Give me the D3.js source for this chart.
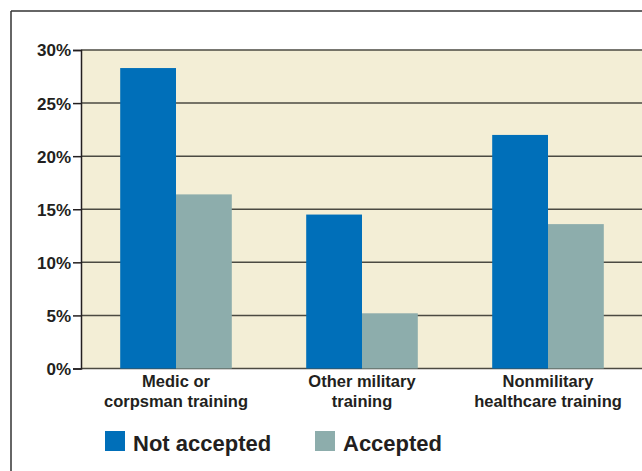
<!DOCTYPE html>
<html>
<head>
<meta charset="utf-8">
<script src="https://cdn.jsdelivr.net/npm/d3@7"></script>
<style>
  body { margin: 0; background: #fff; }
  svg { display: block; }
  text { font-family: "Liberation Sans", Arial, sans-serif; fill: #231f20; }
</style>
</head>
<body>
<div id="chart"></div>
<script>
// data
var categories = ["Medic or|corpsman training", "Other military|training", "Nonmilitary|healthcare training"];
var seriesNames = ["Not accepted", "Accepted"];
var notAccepted = [28.3, 14.5, 22.0];
var accepted = [16.4, 5.2, 13.6];
var yTicks = [0, 5, 10, 15, 20, 25, 30];

var colors = ["#006fb9", "#8dadac"];

var W = 642, H = 471;
var svg = d3.select("#chart").append("svg")
    .attr("width", W)
    .attr("height", H);

// outer frame (left and top rules)
svg.append("line").attr("x1", 11).attr("x2", W).attr("y1", 11).attr("y2", 11)
    .attr("stroke", "#333").attr("stroke-width", 1.5);
svg.append("line").attr("x1", 11).attr("x2", 11).attr("y1", 11).attr("y2", H)
    .attr("stroke", "#333").attr("stroke-width", 1.5);

var plotLeft = 81, plotRight = W, plotTop = 50, plotBottom = 368.5;

var y = d3.scaleLinear().domain([0, 30]).range([plotBottom, plotTop]);
var x = d3.scaleBand().domain(categories).range([83, 641])
    .paddingInner(0.4).paddingOuter(0.2);
var xs = d3.scaleBand().domain(seriesNames).range([0, x.bandwidth()]);

// plot background
svg.append("rect")
    .attr("x", plotLeft).attr("y", y(30))
    .attr("width", plotRight - plotLeft).attr("height", y(0) - y(30))
    .attr("fill", "#f3eed6");

// gridlines
svg.selectAll(".grid").data(yTicks).enter().append("line")
    .attr("class", "grid")
    .attr("x1", plotLeft).attr("x2", plotRight)
    .attr("y1", d => y(d)).attr("y2", d => y(d))
    .attr("stroke", "#4b4a42").attr("stroke-width", 1.5);

// bars
var rows = categories.map((c, i) => ({ cat: c, vals: [notAccepted[i], accepted[i]] }));
var g = svg.selectAll(".grp").data(rows).enter().append("g")
    .attr("transform", d => "translate(" + x(d.cat) + ",0)");
g.selectAll("rect").data(d => d.vals).enter().append("rect")
    .attr("x", (d, i) => xs(seriesNames[i]))
    .attr("y", d => y(d))
    .attr("width", xs.bandwidth())
    .attr("height", d => y(0) - y(d))
    .attr("fill", (d, i) => colors[i]);

// y axis
var yAxis = d3.axisLeft(y).tickValues(yTicks).tickSize(8).tickPadding(2)
    .tickFormat(d => d + "%");
var ya = svg.append("g").attr("transform", "translate(" + plotLeft + ",0)").call(yAxis);
ya.select(".domain").attr("stroke", "#231f20").attr("stroke-width", 1.5);
ya.selectAll(".tick line").attr("stroke", "#231f20").attr("stroke-width", 1.5);
ya.selectAll(".tick text")
    .attr("font-family", "\"Liberation Sans\", Arial, sans-serif")
    .attr("font-size", 17).attr("font-weight", "bold").attr("fill", "#231f20")
    .attr("dy", "0.35em");

// x labels, two lines each
svg.selectAll(".xlab").data(categories).enter().append("text")
    .attr("class", "xlab")
    .attr("text-anchor", "middle")
    .attr("font-size", 16.5).attr("font-weight", "bold")
    .attr("x", d => x(d) + x.bandwidth() / 2)
    .attr("y", 387)
    .selectAll("tspan").data(d => d.split("|")).enter().append("tspan")
    .attr("x", function () { return d3.select(this.parentNode).attr("x"); })
    .attr("dy", (d, i) => i ? 19.5 : 0)
    .text(d => d);

// legend
var legX = [105, 315];
var lg = svg.selectAll(".leg").data(seriesNames).enter().append("g")
    .attr("transform", (d, i) => "translate(" + legX[i] + ",431)");
lg.append("rect").attr("width", 20).attr("height", 20).attr("fill", (d, i) => colors[i]);
lg.append("text").attr("x", 28).attr("y", 20)
    .attr("font-size", 22).attr("font-weight", "bold")
    .text(d => d);
</script>
</body>
</html>
